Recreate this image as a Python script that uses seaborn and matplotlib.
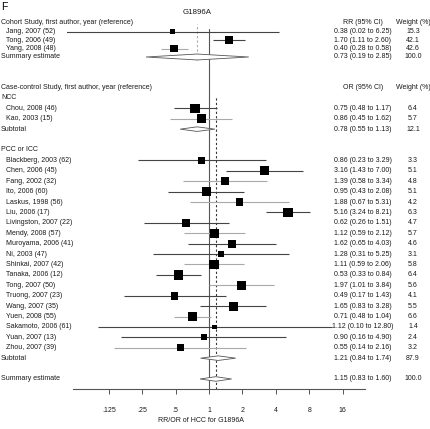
import numpy as np
import pandas as pd
import matplotlib
matplotlib.use("Agg")
import matplotlib.pyplot as plt
import matplotlib.transforms as mtransforms
from matplotlib.ticker import NullLocator
import seaborn as sns

# cohort studies (RR)
cohort_names = ["Jang, 2007 (52)", "Tong, 2006 (49)", "Yang, 2008 (48)"]
cohort_est = [0.38, 1.70, 0.40]
cohort_lo = [0.02, 1.11, 0.28]
cohort_hi = [6.25, 2.60, 0.58]
cohort_wt = [15.3, 42.1, 42.6]
cohort_summary = [0.73, 0.19, 2.85, 100.0]

# case-control, NCC (OR)
ncc_names = ["Chou, 2008 (46)", "Kao, 2003 (15)"]
ncc_est = [0.75, 0.86]
ncc_lo = [0.48, 0.45]
ncc_hi = [1.17, 1.62]
ncc_wt = [6.4, 5.7]
ncc_summary = [0.78, 0.55, 1.13, 12.1]

# case-control, PCC or ICC (OR)
pcc_names = ["Blackberg, 2003 (62)", "Chen, 2006 (45)", "Fang, 2002 (32)", "Ito, 2006 (60)",
             "Laskus, 1998 (56)", "Liu, 2006 (17)", "Livingston, 2007 (22)", "Mendy, 2008 (57)",
             "Muroyama, 2006 (41)", "Ni, 2003 (47)", "Shinkai, 2007 (42)", "Tanaka, 2006 (12)",
             "Tong, 2007 (50)", "Truong, 2007 (23)", "Wang, 2007 (35)", "Yuen, 2008 (55)",
             "Sakamoto, 2006 (61)", "Yuan, 2007 (13)", "Zhou, 2007 (39)"]
pcc_est = [0.86, 3.16, 1.39, 0.95, 1.88, 5.16, 0.62, 1.12, 1.62, 1.28, 1.11, 0.53,
           1.97, 0.49, 1.65, 0.71, 1.12, 0.90, 0.55]
pcc_lo = [0.23, 1.43, 0.58, 0.43, 0.67, 3.24, 0.26, 0.59, 0.65, 0.31, 0.59, 0.33,
          1.01, 0.17, 0.83, 0.48, 0.10, 0.16, 0.14]
pcc_hi = [3.29, 7.00, 3.34, 2.08, 5.31, 8.21, 1.51, 2.12, 4.03, 5.25, 2.06, 0.84,
          3.84, 1.43, 3.28, 1.04, 12.80, 4.90, 2.16]
pcc_wt = [3.3, 5.1, 4.8, 5.1, 4.2, 6.3, 4.7, 5.7, 4.6, 3.1, 5.8, 6.4,
          5.6, 4.1, 5.5, 6.6, 1.4, 2.4, 3.2]
pcc_summary = [1.21, 0.84, 1.74, 87.9]
overall_summary = [1.15, 0.83, 1.60, 100.0]

tick_vals = [0.125, 0.25, 0.5, 1, 2, 4, 8, 16]
tick_labels = [".125", ".25", ".5", "1", "2", "4", "8", "16"]

# studies drawn with a lighter CI line
light_lines = ["Yang, 2008 (48)", "Kao, 2003 (15)", "Fang, 2002 (32)", "Laskus, 1998 (56)",
               "Mendy, 2008 (57)", "Shinkai, 2007 (42)", "Tong, 2007 (50)", "Yuen, 2008 (55)",
               "Zhou, 2007 (39)"]

sns.set_style("white")
plt.rcParams["font.family"] = ["Liberation Sans", "DejaVu Sans"]
plt.rcParams["font.size"] = 5

W, H = 431, 429
fig = plt.figure(figsize=(W / 100, H / 100), dpi=100)
TXT = "#1a1a1a"
DARK = "#444444"
LIGHT = "#a9a9a9"


def fx(px):
    return px / W


def fy(py):
    return 1 - py / H


# top panel (cohort): own scale
ax_top = fig.add_axes([fx(67), fy(62), fx(365 - 67), (62 - 24) / H])
# bottom panel (case-control)
ax_bot = fig.add_axes([fx(73), fy(389), fx(365 - 73), (389 - 62) / H])

for ax in (ax_top, ax_bot):
    ax.set_xscale("log", base=2)
    ax.set_facecolor("none")
    for s in ax.spines.values():
        s.set_visible(False)
    ax.set_yticks([])

ax_top.set_xlim(2 ** -5.40, 2 ** 5.93)
ax_top.set_ylim((62 - 23) / 8.5, (24 - 23) / 8.5)
ax_top.set_xticks([])
ax_top.xaxis.set_minor_locator(NullLocator())

ax_bot.set_xlim(2 ** -4.07, 2 ** 4.67)
ax_bot.set_ylim((389 - 87.5) / 10.41, (62 - 87.5) / 10.41)


def label(ax, row, text, x_px, ha="left", **kw):
    tr = mtransforms.blended_transform_factory(fig.transFigure, ax.transData)
    ax.text(fx(x_px), row, text, transform=tr, ha=ha, va="center", color=TXT,
            clip_on=False, **kw)


def est_text(e, lo, hi):
    return f"{e:.2f} ({lo:.2f} to {hi:.2f})"


def draw_studies(ax, rows, names, est, lo, hi, wt, k):
    colors = [LIGHT if n in light_lines else DARK for n in names]
    ax.hlines(rows, lo, hi, colors=colors, linewidth=0.8, zorder=2)
    df = pd.DataFrame({"est": est, "row": rows, "wt": wt})
    sns.scatterplot(data=df, x="est", y="row", size="wt",
                    sizes=(k * min(wt), k * max(wt)), size_norm=(min(wt), max(wt)),
                    marker="s", color="black", linewidth=0, legend=False, ax=ax, zorder=3)
    ax.set(xlabel="", ylabel="")
    for r, n, e, l, h, w in zip(rows, names, est, lo, hi, wt):
        label(ax, r, n, 6)
        label(ax, r, est_text(e, l, h), 363, ha="center")
        label(ax, r, f"{w:.1f}", 413, ha="center")


def draw_diamond(ax, row, summ, half, name):
    e, l, h, w = summ
    ax.fill([l, e, h, e], [row, row - half, row, row + half], facecolor="white",
            edgecolor="#555555", linewidth=0.6, zorder=3)
    label(ax, row, name, 1)
    label(ax, row, est_text(e, l, h), 363, ha="center")
    label(ax, row, f"{w:.1f}", 413, ha="center")


# ---- cohort panel
top_rows = np.arange(1, len(cohort_names) + 1)
ax_top.axvline(1, ymin=0, ymax=(62 - 29) / 38, color="#555555", linewidth=0.8, zorder=1)
ax_top.axvline(cohort_summary[0], ymin=(62 - 60) / 38, ymax=1, color="#aaaaaa",
               linewidth=0.8, linestyle=(0, (2, 2)), zorder=1)
label(ax_top, 0, "Cohort Study, first author, year (reference)", 1)
label(ax_top, 0, "RR (95% CI)", 363, ha="center")
label(ax_top, 0, "Weight (%)", 413, ha="center")
draw_studies(ax_top, top_rows, cohort_names, cohort_est, cohort_lo, cohort_hi, cohort_wt, 0.7)
draw_diamond(ax_top, top_rows[-1] + 1, cohort_summary, 0.35, "Summary estimate")

# ---- case-control panel
ncc_rows = 2 + np.arange(len(ncc_names))
ncc_sub = ncc_rows[-1] + 1
pcc_head = ncc_sub + 2
pcc_rows = pcc_head + 1 + np.arange(len(pcc_names))
pcc_sub = pcc_rows[-1] + 1
summ_row = pcc_sub + 2

ax_bot.axvline(1, color="#555555", linewidth=0.8, zorder=1)
ax_bot.axvline(overall_summary[0], ymin=0, ymax=(389 - 96) / 327, color="#333333",
               linewidth=0.8, linestyle=(0, (2, 2)), zorder=1)
label(ax_bot, 0, "Case-control Study, first author, year (reference)", 1)
label(ax_bot, 0, "OR (95% CI)", 363, ha="center")
label(ax_bot, 0, "Weight (%)", 413, ha="center")
label(ax_bot, 1, "NCC", 1)
draw_studies(ax_bot, ncc_rows, ncc_names, ncc_est, ncc_lo, ncc_hi, ncc_wt, 7.5)
draw_diamond(ax_bot, ncc_sub, ncc_summary, 0.22, "Subtotal")
label(ax_bot, pcc_head, "PCC or ICC", 1)
draw_studies(ax_bot, pcc_rows, pcc_names, pcc_est, pcc_lo, pcc_hi, pcc_wt, 7.5)
draw_diamond(ax_bot, pcc_sub, pcc_summary, 0.22, "Subtotal")
draw_diamond(ax_bot, summ_row, overall_summary, 0.22, "Summary estimate")

ax_bot.spines["bottom"].set_visible(True)
ax_bot.spines["bottom"].set_color("#555555")
ax_bot.spines["bottom"].set_linewidth(0.8)
ax_bot.set_xticks(tick_vals)
ax_bot.set_xticklabels(tick_labels)
ax_bot.xaxis.set_minor_locator(NullLocator())
ax_bot.tick_params(axis="x", direction="out", length=3.8, width=0.7, color="#555555",
                   pad=9, labelsize=5, labelcolor=TXT, bottom=True)

fig.text(fx(201), fy(420), "RR/OR of HCC for G1896A", ha="center", va="center",
         fontsize=5, color=TXT)
fig.text(fx(197), fy(12), "G1896A", ha="center", va="center", fontsize=5.7, color=TXT)
fig.text(fx(1), fy(7), "F", ha="left", va="center", fontsize=7.5, color="black")

fig.savefig("out.png", dpi=100)
